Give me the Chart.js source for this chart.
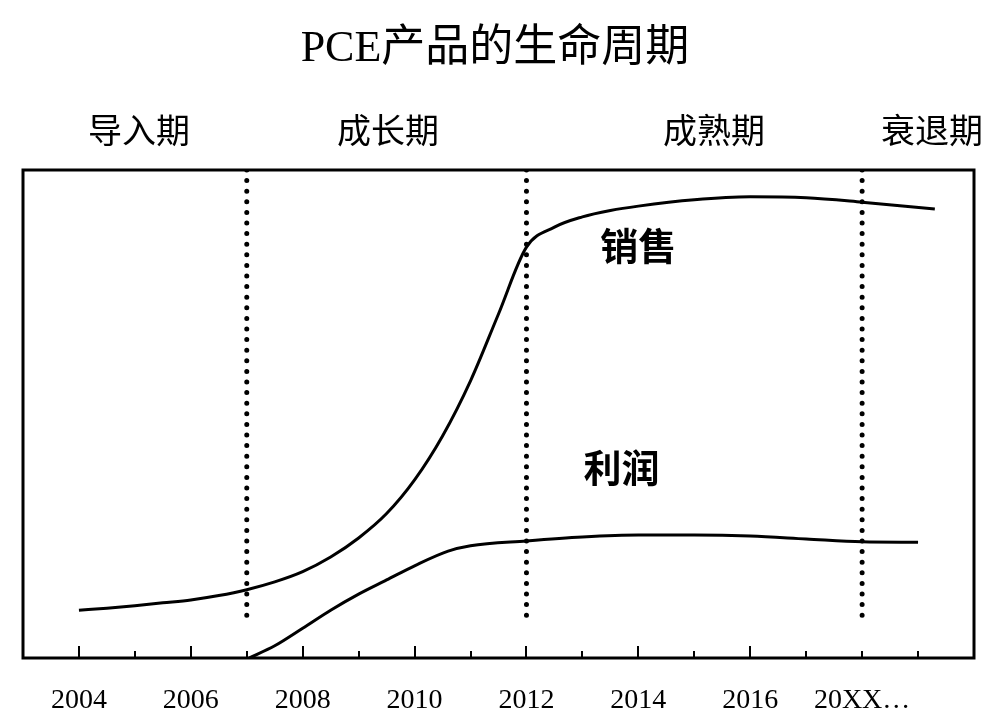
<!DOCTYPE html>
<html>
<head>
<meta charset="utf-8">
<script src="https://cdn.jsdelivr.net/npm/chart.js@4/dist/chart.umd.min.js"></script>
<style>
  html, body { margin: 0; padding: 0; background: #fff; }
  #wrap { width: 1000px; height: 724px; }
</style>
</head>
<body>
<div id="wrap"><canvas id="lifecycle"></canvas></div>
<script>
const salesYears = [2004, 2004.5, 2005, 2005.5, 2006, 2006.5, 2007, 2007.5, 2008, 2008.5, 2009, 2009.5, 2010, 2010.5, 2011, 2011.5, 2012, 2012.5, 2013, 2013.5, 2014, 2015, 2016, 2017, 2018, 2019.3];
const salesValues = [9.8, 10.2, 10.7, 11.3, 11.9, 12.8, 14.0, 15.6, 17.7, 20.7, 24.6, 29.6, 36.5, 45.5, 56.8, 70.5, 84.2, 88.3, 90.4, 91.7, 92.6, 93.9, 94.5, 94.3, 93.4, 92.0];

const profitYears = [2007.04, 2007.5, 2008, 2008.5, 2009, 2009.5, 2010, 2010.6, 2011, 2012, 2013, 2014, 2015, 2016, 2017, 2018, 2019];
const profitValues = [0, 2.5, 6.1, 9.8, 13.1, 16.0, 18.9, 21.9, 23.0, 24.0, 24.8, 25.2, 25.2, 25.0, 24.4, 23.8, 23.7];

const phaseBreaks = [2007, 2012, 2018];
const phaseNames = ['导入期', '成长期', '成熟期', '衰退期'];
const yearLabels = ['2004', '2006', '2008', '2010', '2012', '2014', '2016'];
const lastLabel = '20XX…';

function toPoints(xs, ys) {
    return xs.map((x, i) => ({ x: x, y: ys[i] }));
}

const dividerSets = phaseBreaks.map(year => ({
    data: [{ x: year, y: 100 }, { x: year, y: 8.4 }],
    borderColor: '#000',
    borderWidth: 5,
    borderDash: [0, 10.6],
    borderCapStyle: 'round',
    pointRadius: 0,
    tension: 0
}));

// text, tick marks and frame
const decorations = {
    id: 'decorations',
    afterDatasetsDraw(chart) {
        const ctx = chart.ctx;
        const area = chart.chartArea;
        const xs = chart.scales.x;
        const ys = chart.scales.y;
        ctx.save();

        // inward tick marks
        ctx.strokeStyle = '#000';
        ctx.lineWidth = 2;
        for (let yr = 2004; yr <= 2019; yr++) {
            const px = Math.round(xs.getPixelForValue(yr));
            const len = (yr % 2 === 0 && yr <= 2016) ? 12 : 7;
            ctx.beginPath();
            ctx.moveTo(px, area.bottom);
            ctx.lineTo(px, area.bottom - len);
            ctx.stroke();
        }

        // frame
        ctx.lineWidth = 3;
        ctx.strokeRect(area.left, area.top, area.right - area.left, area.bottom - area.top);

        ctx.fillStyle = '#000';
        ctx.textAlign = 'center';
        ctx.textBaseline = 'middle';

        ctx.font = '44px "Liberation Serif", "Noto Sans CJK SC", serif';
        ctx.fillText('PCE产品的生命周期', 495, 49);

        ctx.font = '34px "Noto Sans CJK SC", sans-serif';
        const phaseX = [139, 388, 714, 932];
        phaseNames.forEach((name, i) => ctx.fillText(name, phaseX[i], 130));

        ctx.font = 'bold 38px "Noto Sans CJK SC", sans-serif';
        ctx.fillText('销售', xs.getPixelForValue(2014), ys.getPixelForValue(84.6));
        ctx.fillText('利润', xs.getPixelForValue(2013.7), ys.getPixelForValue(39.1));

        ctx.restore();
    }
};

new Chart(document.getElementById('lifecycle'), {
    type: 'line',
    data: {
        datasets: [
            {
                label: '销售',
                data: toPoints(salesYears, salesValues),
                borderColor: '#000',
                borderWidth: 3,
                pointRadius: 0,
                cubicInterpolationMode: 'monotone'
            },
            {
                label: '利润',
                data: toPoints(profitYears, profitValues),
                borderColor: '#000',
                borderWidth: 3,
                pointRadius: 0,
                cubicInterpolationMode: 'monotone'
            },
            ...dividerSets
        ]
    },
    options: {
        responsive: true,
        maintainAspectRatio: false,
        animation: false,
        layout: {
            padding: { left: 23, right: 26, top: 170, bottom: 0 }
        },
        plugins: {
            legend: { display: false },
            tooltip: { enabled: false }
        },
        scales: {
            x: {
                type: 'linear',
                min: 2003,
                max: 2020,
                grid: { display: false },
                border: { display: false },
                afterFit: scale => { scale.height = 66; },
                ticks: {
                    stepSize: 1,
                    autoSkip: false,
                    maxRotation: 0,
                    padding: 18,
                    color: '#000',
                    font: { family: '"Liberation Serif", serif', size: 28 },
                    callback: value => {
                        if (yearLabels.includes(String(value))) return String(value);
                        if (value === 2018) return lastLabel;
                        return '';
                    }
                }
            },
            y: {
                display: false,
                min: 0,
                max: 100
            }
        }
    },
    plugins: [decorations]
});
</script>
</body>
</html>
